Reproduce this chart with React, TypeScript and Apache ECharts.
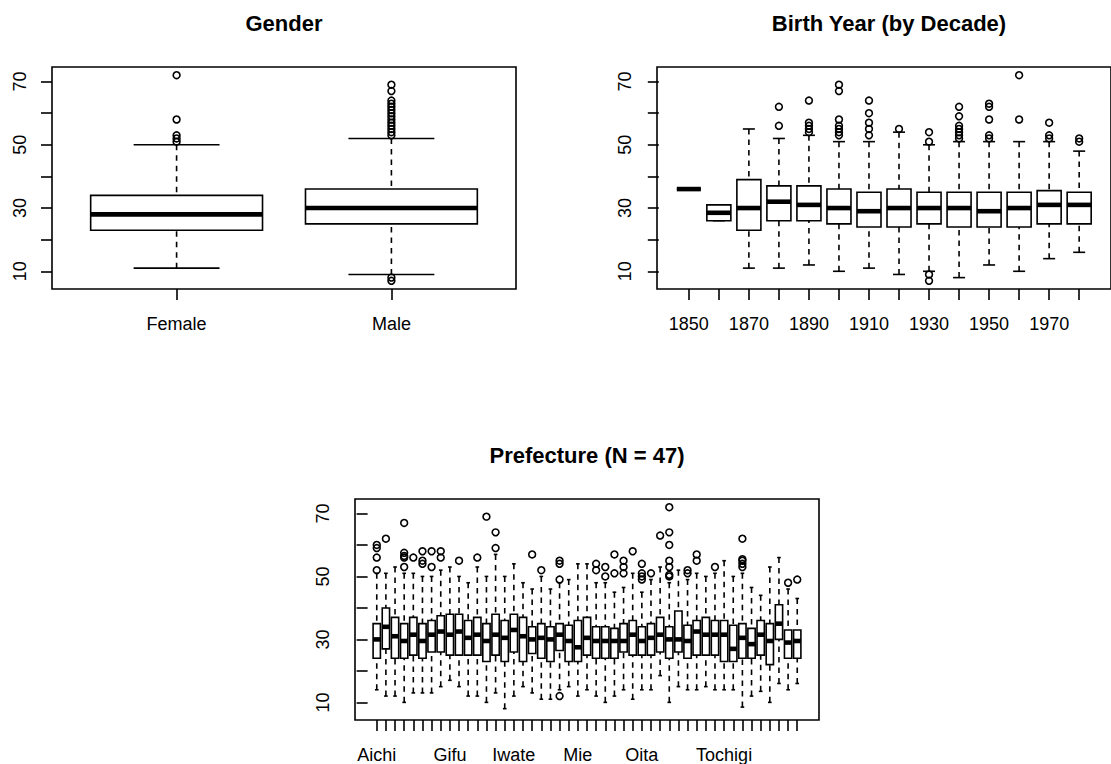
import React, { useEffect, useRef } from "react";
import * as echarts from "echarts";

// ---------- data ----------
const genderCategories = ["Female", "Male"];
// [lower whisker, Q1, median, Q3, upper whisker]
const genderStats = [
  [11, 23, 28, 34, 50],
  [9, 25, 30, 36, 52],
];
const genderOutliers = [
  [51, 52, 53, 58, 72],
  [7, 8, 53, 54, 55, 56, 57, 58, 59, 60, 61, 62, 63, 64, 67, 69],
];
const genderLabelIdx = [1, 2];

const decadeCategories = ["1850", "1860", "1870", "1880", "1890", "1900", "1910", "1920", "1930", "1940", "1950", "1960", "1970", "1980"];
const decadeStats = [
  [36, 36, 36, 36, 36],
  [26, 26, 28.5, 31, 31],
  [11, 23, 30, 39, 55],
  [11, 26, 32, 37, 52],
  [12, 26, 31, 37, 53],
  [10, 25, 30, 36, 51],
  [11, 24, 29, 35, 51],
  [9, 24, 30, 36, 54],
  [10, 25, 30, 35, 50],
  [8, 24, 30, 35, 51],
  [12, 24, 29, 35, 51],
  [10, 24, 30, 35, 51],
  [14, 25, 31, 35.5, 51],
  [16, 25, 31, 35, 48],
];
const decadeOutliers = [
  [], [], [], [56, 62], [54, 55, 56, 57, 64], [53, 54, 55, 56, 58, 67, 69],
  [53, 55, 57, 60, 64], [55], [7, 9, 51, 54], [52, 53, 54, 55, 56, 59, 62],
  [52, 53, 58, 62, 63], [58, 72], [52, 53, 57], [51, 52],
];
const decadeLabelIdx = [1, 3, 5, 7, 9, 11, 13];

const prefCategories = [
  "Aichi", "Akita", "Aomori", "Chiba", "Ehime", "Fukui", "Fukuoka", "Fukushima", "Gifu", "Gunma",
  "Hiroshima", "Hokkaido", "Hyogo", "Ibaraki", "Ishikawa", "Iwate", "Kagawa", "Kagoshima", "Kanagawa", "Kochi",
  "Kumamoto", "Kyoto", "Mie", "Miyagi", "Miyazaki", "Nagano", "Nagasaki", "Nara", "Niigata", "Oita",
  "Okayama", "Okinawa", "Osaka", "Saga", "Saitama", "Shiga", "Shimane", "Shizuoka", "Tochigi", "Tokushima",
  "Tokyo", "Tottori", "Toyama", "Wakayama", "Yamagata", "Yamaguchi", "Yamanashi",
];
const prefStats = [
  [14, 24, 30, 35, 51], [12, 27, 34, 40, 51], [12, 24, 31, 37, 53], [10, 24, 29.5, 35, 51], [13, 25, 31.5, 37, 51],
  [13, 24, 29.5, 35, 50], [13, 26, 31.5, 36, 50], [15, 26, 32.5, 37.5, 52], [17, 25, 31.5, 38, 53], [15, 25, 32.5, 38, 50],
  [12, 25, 30.5, 36, 48], [12, 25, 31.5, 37, 53], [10, 23, 29.5, 35, 50], [13, 25, 31.5, 38, 57], [8, 23, 30.5, 36, 50],
  [12, 26, 33, 38, 54], [15, 23, 31, 37, 48], [13, 25.5, 30, 34, 46], [11, 24, 30.5, 35, 50], [11, 23, 30, 34, 46],
  [14, 26.5, 31.5, 35, 48], [15, 23, 29.5, 34.5, 49], [12, 23, 27.5, 36, 54], [14, 25, 30.5, 37, 54], [12, 24, 29.5, 34, 48],
  [10, 24, 29.5, 34, 48], [12, 24, 29.5, 33.5, 45], [14, 26, 29.5, 35, 46.5], [11, 25, 31.5, 36, 51], [14, 25, 29.5, 34, 45],
  [14, 25, 30.5, 35, 49], [18.5, 26, 31.5, 37, 53], [10, 24, 30, 34, 48], [15, 26, 30, 39, 52], [14, 24, 29.5, 34.5, 49],
  [14, 25, 32.5, 36, 51], [15, 25, 31.5, 37, 50], [14, 25, 31.5, 36, 51], [14, 23, 31.5, 36, 55], [14, 23, 27, 34.5, 50],
  [8.5, 24, 30.5, 35, 51], [12, 24, 28.5, 33.5, 46.5], [13.5, 25, 31.5, 36, 44], [10, 22, 29.5, 35, 53], [16, 30, 35, 41, 56],
  [14, 24, 29, 33, 46], [16, 24, 29.5, 33, 43],
];
const prefOutliers = [
  [52, 56, 59, 60], [62], [], [53, 56, 56.5, 57.5, 67], [56],
  [54, 55, 58], [53, 58], [56, 58], [], [55],
  [], [56], [69], [59, 64], [],
  [], [], [57], [52], [],
  [12, 49, 54, 55], [], [], [], [52, 54],
  [50, 53], [51, 57], [51, 53, 55], [58], [49, 50, 51, 54],
  [51], [63], [50, 50.5, 53, 55, 60, 64, 72], [], [51, 52],
  [55, 57], [], [53], [], [],
  [53, 54, 55, 55.5, 62], [], [], [], [],
  [48], [49],
];
const prefLabelIdx = [1, 9, 16, 23, 30, 39];

const yTicks = [10, 20, 30, 40, 50, 60, 70];
const yLabels = [10, 30, 50, 70];
const yRange = [4.4, 74.6];

const titles = ["Gender", "Birth Year (by Decade)", "Prefecture (N = 47)"];

// ---------- styling ----------
const FONT = '"Liberation Sans", Arial, Helvetica, sans-serif';
const LW = 1.6;
const MW = 4.6;
const DASH = [5.5, 5];
const grids = [
  { left: 52, top: 67, width: 464, height: 222 },
  { left: 657, top: 67, width: 464, height: 222 },
  { left: 355, top: 499, width: 464, height: 222 },
];

function seq(n: number) {
  const a: number[] = [];
  for (let i = 1; i <= n; i++) a.push(i);
  return a;
}

function renderBox(params: any, api: any) {
  const x = api.value(0);
  const lo = api.coord([x, api.value(1)]);
  const q1 = api.coord([x, api.value(2)]);
  const md = api.coord([x, api.value(3)]);
  const q3 = api.coord([x, api.value(4)]);
  const hi = api.coord([x, api.value(5)]);
  const bw = api.size([0.8, 0])[0];
  const hw = bw / 2;
  const cw = bw / 4;
  const cx = lo[0];
  const solid = { stroke: "#000", lineWidth: LW, fill: "none" };
  const dashed = { stroke: "#000", lineWidth: LW, lineDash: DASH, fill: "none" };
  return {
    type: "group",
    children: [
      { type: "line", shape: { x1: cx, y1: hi[1], x2: cx, y2: q3[1] }, style: dashed },
      { type: "line", shape: { x1: cx, y1: lo[1], x2: cx, y2: q1[1] }, style: dashed },
      { type: "line", shape: { x1: cx - cw, y1: hi[1], x2: cx + cw, y2: hi[1] }, style: solid },
      { type: "line", shape: { x1: cx - cw, y1: lo[1], x2: cx + cw, y2: lo[1] }, style: solid },
      { type: "rect", shape: { x: cx - hw, y: q3[1], width: bw, height: q1[1] - q3[1] }, style: { stroke: "#000", lineWidth: LW, fill: "#fff" } },
      { type: "line", shape: { x1: cx - hw, y1: md[1], x2: cx + hw, y2: md[1] }, style: { stroke: "#000", lineWidth: MW, lineCap: "butt" } },
    ],
  };
}

function buildOption() {
  const panels = [
    { cats: genderCategories, stats: genderStats, outs: genderOutliers, labels: genderLabelIdx },
    { cats: decadeCategories, stats: decadeStats, outs: decadeOutliers, labels: decadeLabelIdx },
    { cats: prefCategories, stats: prefStats, outs: prefOutliers, labels: prefLabelIdx },
  ];
  const xAxis: any[] = [];
  const yAxis: any[] = [];
  const series: any[] = [];
  panels.forEach((p, gi) => {
    const n = p.cats.length;
    xAxis.push({
      type: "value",
      gridIndex: gi,
      min: 0.5 - 0.04 * n,
      max: n + 0.5 + 0.04 * n,
      axisLine: { show: false },
      splitLine: { show: false },
      axisTick: { show: true, inside: false, length: 11, customValues: seq(n), lineStyle: { color: "#000", width: LW } },
      axisLabel: {
        show: true,
        customValues: p.labels,
        formatter: (v: number) => p.cats[Math.round(v) - 1] ?? "",
        margin: 26,
        color: "#000",
        fontSize: 18,
        fontFamily: FONT,
      },
    });
    yAxis.push({
      type: "value",
      gridIndex: gi,
      min: yRange[0],
      max: yRange[1],
      axisLine: { show: false },
      splitLine: { show: false },
      axisTick: { show: true, inside: false, length: 11, customValues: yTicks, lineStyle: { color: "#000", width: LW } },
      axisLabel: {
        show: true,
        customValues: yLabels,
        rotate: 90,
        margin: 23,
        color: "#000",
        fontSize: 18,
        fontFamily: FONT,
      },
    });
    series.push({
      type: "custom",
      xAxisIndex: gi,
      yAxisIndex: gi,
      renderItem: renderBox,
      encode: { x: 0, y: [1, 2, 3, 4, 5] },
      data: p.stats.map((s, i) => [i + 1, ...s]),
      silent: true,
      clip: false,
    });
    const od: number[][] = [];
    p.outs.forEach((arr, i) => arr.forEach((v) => od.push([i + 1, v])));
    series.push({
      type: "scatter",
      xAxisIndex: gi,
      yAxisIndex: gi,
      data: od,
      symbol: "circle",
      symbolSize: 6.8,
      itemStyle: { color: "rgba(0,0,0,0)", borderColor: "#000", borderWidth: LW, opacity: 1 },
      silent: true,
      z: 3,
    });
  });
  const graphic = titles.map((t, i) => ({
    type: "text",
    x: grids[i].left + grids[i].width / 2,
    y: grids[i].top - 44,
    style: {
      text: t,
      align: "center",
      verticalAlign: "middle",
      fontSize: 22,
      fontWeight: "bold",
      fontFamily: FONT,
      fill: "#000",
    },
  }));
  return {
    animation: false,
    backgroundColor: "#fff",
    grid: grids.map((g) => ({ ...g, show: true, borderColor: "#000", borderWidth: LW, backgroundColor: "transparent", containLabel: false })),
    xAxis,
    yAxis,
    series,
    graphic,
  };
}

export default function App() {
  const ref = useRef<HTMLDivElement>(null);
  useEffect(() => {
    if (!ref.current) return;
    const chart = echarts.init(ref.current, null, { renderer: "svg" });
    chart.setOption(buildOption() as any);
    return () => chart.dispose();
  }, []);
  return <div ref={ref} style={{ position: "absolute", left: 0, top: 0, width: 1111, height: 764 }} />;
}
